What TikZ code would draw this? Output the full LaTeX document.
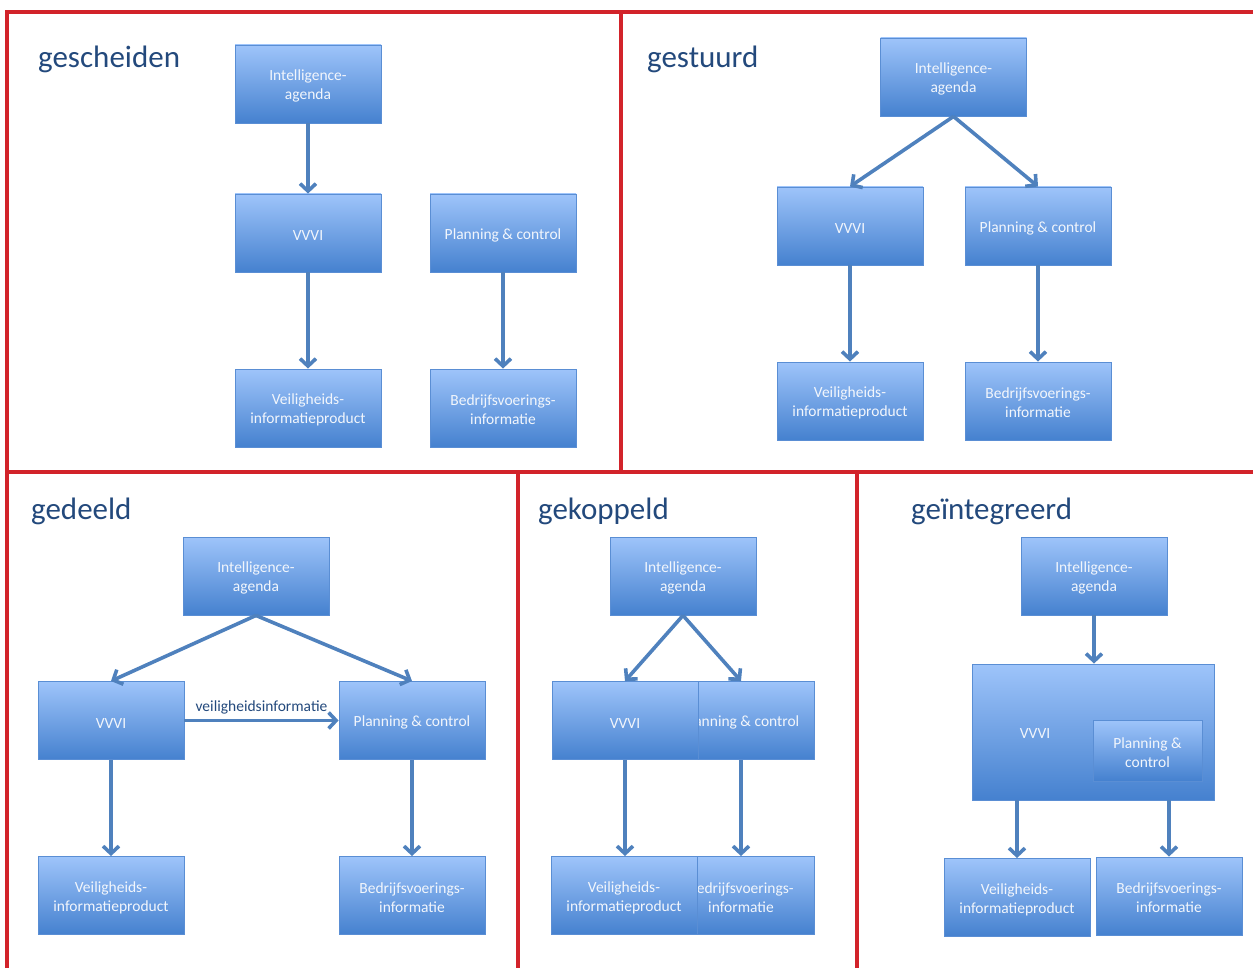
\documentclass[tikz,border=0pt]{standalone}
\usepackage{fontspec}
\setmainfont{Carlito}
\usetikzlibrary{arrows.meta}

\definecolor{frame}{HTML}{D2232A}
\definecolor{boxtop}{HTML}{9EC4FA}
\definecolor{boxbot}{HTML}{4581CF}
\definecolor{boxedge}{HTML}{5A8ED4}
\definecolor{arrowc}{HTML}{4F81BD}
\definecolor{titlec}{HTML}{23497C}
\definecolor{boxtext}{HTML}{F2F6FC}

\tikzset{
  panelline/.style={draw=frame, line width=3.2pt},
  block/.style={rectangle, minimum width=146pt, minimum height=78pt,
    top color=boxtop, bottom color=boxbot, draw=boxedge, line width=0.9pt,
    text=boxtext, align=center, inner sep=0pt, text height=34pt,
    font=\fontsize{15.5}{19}\selectfont},
  oneline/.style={text height=15pt},
  flow/.style={draw=arrowc, line width=3.6pt,
    -{Straight Barb[length=7.5pt, width=16pt, line width=3.6pt]}},
  paneltitle/.style={anchor=base west, text=titlec, inner sep=0pt,
    font=\fontsize{31}{36}\selectfont},
  flowlabel/.style={text=titlec, inner sep=0pt,
    font=\fontsize{15.5}{19}\selectfont}
}

\begin{document}
\begin{tikzpicture}[x=1pt, y=-1pt]
\useasboundingbox (0,0) rectangle (1253,968);

% panel frame
\draw[panelline] (1253,12) -- (7,12) -- (7,968);
\draw[panelline] (7,472) -- (1253,472);
\draw[panelline] (621,12) -- (621,472);
\draw[panelline] (518,472) -- (518,968);
\draw[panelline] (857,472) -- (857,968);

% titles
\node[paneltitle] (t1) at (38,68) {gescheiden};
\node[paneltitle] (t2) at (647,68) {gestuurd};
\node[paneltitle] (t3) at (31,519) {gedeeld};
\node[paneltitle] (t4) at (538,519) {gekoppeld};
\node[paneltitle] (t5) at (911,519) {geïntegreerd};

% gescheiden
\node[block] (ia1) at (308,84) {Intelligence-\\agenda};
\node[block, oneline] (vv1) at (308,233) {VVVI};
\node[block, oneline] (pc1) at (503,233) {Planning \& control};
\node[block] (vip1) at (308,408) {Veiligheids-\\informatieproduct};
\node[block] (bvi1) at (503,408) {Bedrijfsvoerings-\\informatie};
\draw[flow] (ia1) -- (vv1);
\draw[flow] (vv1) -- (vip1);
\draw[flow] (pc1) -- (bvi1);

% gestuurd
\node[block] (ia2) at (953.5,77) {Intelligence-\\agenda};
\node[block, oneline] (vv2) at (850,226) {VVVI};
\node[block, oneline] (pc2) at (1038,226) {Planning \& control};
\node[block] (vip2) at (850,401) {Veiligheids-\\informatieproduct};
\node[block] (bvi2) at (1038,401) {Bedrijfsvoerings-\\informatie};
\draw[flow] (ia2.south) -- (vv2.north);
\draw[flow] (ia2.south) -- (pc2.north);
\draw[flow] (vv2) -- (vip2);
\draw[flow] (pc2) -- (bvi2);

% gedeeld
\node[block] (ia3) at (256,576) {Intelligence-\\agenda};
\node[block, oneline] (vv3) at (111,720.5) {VVVI};
\node[block, oneline] (pc3) at (412,720.5) {Planning \& control};
\node[block] (vip3) at (111,895.5) {Veiligheids-\\informatieproduct};
\node[block] (bvi3) at (412,895.5) {Bedrijfsvoerings-\\informatie};
\draw[flow] (ia3.south) -- (vv3.north);
\draw[flow] (ia3.south) -- (pc3.north);
\draw[flow] (vv3) -- node[flowlabel, above=5pt] (lbl3) {veiligheidsinformatie} (pc3);
\draw[flow] (vv3) -- (vip3);
\draw[flow] (pc3) -- (bvi3);

% gekoppeld (overlapping blocks)
\node[block] (ia4) at (683,576) {Intelligence-\\agenda};
\node[block, oneline] (pc4) at (741,720.5) {Planning \& control};
\node[block, oneline] (vv4) at (625,720.5) {VVVI};
\node[block] (bvi4) at (741,895.5) {Bedrijfsvoerings-\\informatie};
\node[block] (vip4) at (624,895.5) {Veiligheids-\\informatieproduct};
\draw[flow] (ia4.south) -- (vv4.north);
\draw[flow] (ia4.south) -- (pc4.north);
\draw[flow] (vv4.south) -- (vv4.south |- vip4.north);
\draw[flow] (pc4.south) -- (pc4.south |- bvi4.north);

% geintegreerd
\node[block] (ia5) at (1094,576) {Intelligence-\\agenda};
\node[block, minimum width=242pt, minimum height=136pt] (vv5) at (1093,732) {};
\node[text=boxtext, inner sep=0pt, font=\fontsize{15.5}{19}\selectfont] (vv5t) at (1035,733.5) {VVVI};
\node[block, minimum width=109pt, minimum height=61pt] (pc5) at (1147.5,750.5) {Planning \&\\control};
\node[block] (vip5) at (1017,897.5) {Veiligheids-\\informatieproduct};
\node[block] (bvi5) at (1169,896) {Bedrijfsvoerings-\\informatie};
\draw[flow] (ia5.south) -- (ia5.south |- vv5.north);
\draw[flow] (vv5.south -| vip5.north) -- (vip5.north);
\draw[flow] (vv5.south -| bvi5.north) -- (bvi5.north);
\end{tikzpicture}
\end{document}
